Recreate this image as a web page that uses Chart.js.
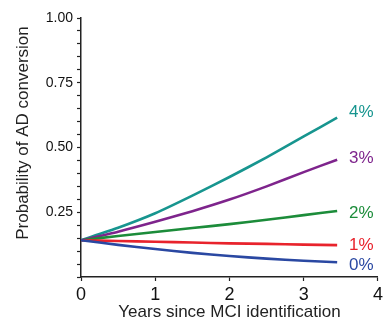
<!DOCTYPE html>
<html>
<head>
<meta charset="utf-8">
<script src="https://cdn.jsdelivr.net/npm/chart.js@4"></script>
<style>
  html, body { margin: 0; padding: 0; background: #fff; }
  #wrap { width: 388px; height: 321px; position: relative; }
</style>
</head>
<body>
<div id="wrap"><canvas id="chart"></canvas></div>
<script>
// years since MCI identification
var years = [0, 0.5, 1, 1.5, 2, 2.5, 3, 3.45];

// probability of AD conversion, one series per rate
var rate0 = [0.142, 0.124, 0.108, 0.093, 0.081, 0.071, 0.063, 0.057];
var rate1 = [0.142, 0.139, 0.136, 0.133, 0.130, 0.128, 0.125, 0.123];
var rate2 = [0.142, 0.158, 0.174, 0.189, 0.204, 0.221, 0.239, 0.255];
var rate3 = [0.142, 0.175, 0.213, 0.254, 0.299, 0.350, 0.405, 0.453];
var rate4 = [0.142, 0.190, 0.246, 0.314, 0.386, 0.462, 0.543, 0.615];

var seriesLabels = ['0%', '1%', '2%', '3%', '4%'];
var seriesColors = ['#2a48a2', '#e8232c', '#1c8c3a', '#7e248c', '#17958f'];
// where the end labels sit (y value)
var labelY = [0.046, 0.123, 0.247, 0.458, 0.636];
var labelX = 3.61;

var yTickLabels = { '0.25': '0.25', '0.5': '0.50', '0.75': '0.75', '1': '1.00' };

function pts(vals) {
    return years.map(function (x, i) { return { x: x, y: vals[i] }; });
}

var allSeries = [rate0, rate1, rate2, rate3, rate4];
var datasets = allSeries.map(function (vals, i) {
    return {
        label: seriesLabels[i],
        data: pts(vals),
        borderColor: seriesColors[i],
        borderWidth: 2.6,
        pointRadius: 0,
        tension: 0.2,
        fill: false
    };
});

// coloured % labels at the right end of each line, plus the y title
var endLabels = {
    id: 'endLabels',
    afterDraw: function (chart) {
        var ctx = chart.ctx;
        var xs = chart.scales.x, ys = chart.scales.y;
        ctx.save();
        ctx.font = '17px "Liberation Sans", Arial, sans-serif';
        ctx.textAlign = 'left';
        ctx.textBaseline = 'middle';
        seriesLabels.forEach(function (t, i) {
            ctx.fillStyle = seriesColors[i];
            ctx.fillText(t, xs.getPixelForValue(labelX), ys.getPixelForValue(labelY[i]));
        });
        ctx.translate(23, 133);
        ctx.rotate(-Math.PI / 2);
        ctx.textAlign = 'center';
        ctx.fillStyle = '#222';
        ctx.fillText('Probability of AD conversion', 0, 0);
        ctx.restore();
    }
};

new Chart(document.getElementById('chart'), {
    type: 'line',
    data: { datasets: datasets },
    options: {
        responsive: true,
        maintainAspectRatio: false,
        animation: false,
        layout: { padding: { left: 0, right: 7, top: 18, bottom: 0 } },
        plugins: { legend: { display: false }, tooltip: { enabled: false } },
        scales: {
            x: {
                type: 'linear',
                min: 0,
                max: 4,
                afterFit: function (s) { s.height = 44; },
                border: { display: true, color: '#222', width: 1.5 },
                grid: { drawOnChartArea: false, drawTicks: true, tickLength: 4, tickColor: '#222', tickWidth: 1.2 },
                ticks: {
                    stepSize: 1,
                    padding: 5,
                    color: '#111',
                    font: { family: '"Liberation Sans Narrow", "Liberation Sans", Arial, sans-serif', size: 18, lineHeight: 1 }
                },
                title: {
                    display: true,
                    text: 'Years since MCI identification',
                    color: '#222',
                    padding: { top: 0, bottom: 0 },
                    font: { family: '"Liberation Sans", Arial, sans-serif', size: 17, lineHeight: 1 }
                }
            },
            y: {
                min: 0,
                max: 1,
                afterFit: function (s) { s.width = 81; },
                border: { display: true, color: '#222', width: 1.5 },
                grid: { drawOnChartArea: false, drawTicks: true, tickLength: 4, tickColor: '#222', tickWidth: 1.2 },
                ticks: {
                    stepSize: 0.05,
                    autoSkip: false,
                    padding: 4,
                    color: '#111',
                    font: { family: '"Liberation Sans", Arial, sans-serif', size: 14 },
                    callback: function (v) {
                        var k = String(Math.round(v * 100) / 100);
                        return yTickLabels[k] || '';
                    }
                }
            }
        }
    },
    plugins: [endLabels]
});
</script>
</body>
</html>
